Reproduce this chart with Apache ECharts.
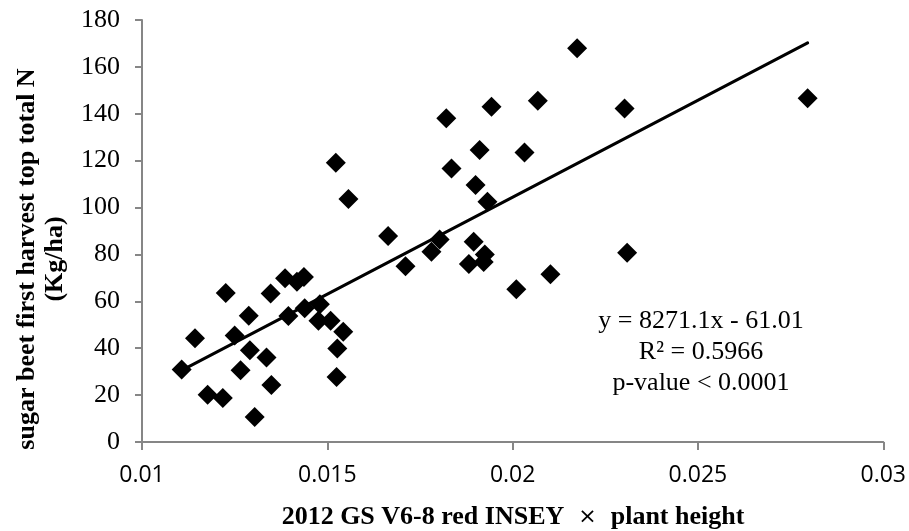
<!DOCTYPE html>
<html>
<head>
<meta charset="utf-8">
<script src="https://cdn.jsdelivr.net/npm/echarts@6/dist/echarts.min.js"></script>
<style>
  html, body { margin: 0; padding: 0; background: #fff; }
  #chart { width: 909px; height: 531px; }
</style>
</head>
<body>
<div id="chart"></div>
<script>
// Red INSEY × plant height (GS V6-8, 2012) against sugar beet top total N
const xValues = [
  0.01107, 0.01143, 0.01177, 0.01218, 0.01226, 0.01250, 0.01266, 0.01288,
  0.01291, 0.01304, 0.01336, 0.01349, 0.01347, 0.01386, 0.01395, 0.01418,
  0.01437, 0.01439, 0.01480, 0.01476, 0.01509, 0.01543, 0.01527, 0.01525,
  0.01523, 0.01557, 0.01664, 0.01711, 0.01781, 0.01803, 0.01821, 0.01835,
  0.01895, 0.01882, 0.01900, 0.01911, 0.01925, 0.01922, 0.01932, 0.01943,
  0.02010, 0.02032, 0.02068, 0.02102, 0.02174, 0.02302, 0.02309, 0.02796
];
const yValues = [
  30.9, 44.3, 20.2, 18.8, 63.6, 45.4, 30.6, 53.8,
  39.1, 10.7, 36.0, 24.3, 63.3, 69.8, 53.7, 68.3,
  70.4, 57.0, 58.8, 51.7, 51.7, 47.0, 39.9, 27.7,
  119.1, 103.6, 87.9, 75.0, 81.1, 86.4, 138.1, 116.7,
  85.4, 75.9, 109.6, 124.5, 80.0, 76.8, 102.5, 143.0,
  65.2, 123.5, 145.6, 71.5, 167.9, 142.2, 80.7, 146.6
];

// Linear fit reported on the chart
const slope = 8271.1;
const intercept = -61.01;
const statLines = ['y = 8271.1x - 61.01', 'R\u00B2 = 0.5966', 'p-value < 0.0001'];

const xTitle = '2012 GS V6-8 red INSEY';
const xTitleTail = 'plant height';
const yTitleLines = ['sugar beet first harvest top total N', '(Kg/ha)'];

const points = xValues.map((x, i) => [x, yValues[i]]);
const xMin = Math.min(...xValues);
const xMax = Math.max(...xValues);
const fitLine = [xMin, xMax].map(x => [x, slope * x + intercept]);

const axisGray = '#868686';
const serif = '"Liberation Serif", "Times New Roman", serif';

const chart = echarts.init(document.getElementById('chart'), null, { renderer: 'canvas' });
chart.setOption({
  backgroundColor: '#ffffff',
  animation: false,
  grid: { left: 142, right: 25, top: 20, bottom: 89, containLabel: false },
  xAxis: {
    type: 'value',
    min: 0.01, max: 0.03, interval: 0.005,
    splitLine: { show: false },
    axisLine: { onZero: false, lineStyle: { color: axisGray, width: 2 } },
    axisTick: { show: true, inside: false, length: 8, lineStyle: { color: axisGray, width: 2 } },
    axisLabel: {
      margin: 22, color: '#000', fontFamily: '"Open Sans", sans-serif', fontSize: 23,
      formatter: v => String(+v.toFixed(4))
    }
  },
  yAxis: {
    type: 'value',
    min: 0, max: 180, interval: 20,
    splitLine: { show: false },
    axisLine: { show: true, onZero: false, lineStyle: { color: axisGray, width: 2 } },
    axisTick: { show: true, inside: false, length: 7, lineStyle: { color: axisGray, width: 2 } },
    axisLabel: { margin: 22, color: '#000', fontFamily: serif, fontSize: 26 }
  },
  series: [
    {
      type: 'scatter',
      data: points,
      symbol: 'diamond',
      symbolSize: 20,
      itemStyle: { color: '#000', opacity: 1 },
      z: 3
    },
    {
      type: 'line',
      data: fitLine,
      symbol: 'none',
      lineStyle: { color: '#000', width: 3, cap: 'round' },
      z: 4
    }
  ],
  graphic: [
    {
      type: 'text',
      style: {
        x: 513, y: 517,
        text: '{b|' + xTitle + '}{m|  \u00D7  }{b|' + xTitleTail + '}',
        align: 'center', verticalAlign: 'middle',
        rich: {
          b: { fontFamily: serif, fontWeight: 'bold', fontSize: 26, fill: '#000' },
          m: { fontFamily: '"DejaVu Sans", sans-serif', fontWeight: 'normal', fontSize: 22, fill: '#000' }
        }
      }
    },
    {
      type: 'text',
      x: 41, y: 259,
      rotation: Math.PI / 2,
      style: {
        text: yTitleLines.join('\n'),
        align: 'center', verticalAlign: 'middle',
        fontFamily: serif, fontWeight: 'bold', fontSize: 26, lineHeight: 28, fill: '#000'
      }
    },
    {
      type: 'text',
      x: 701, y: 352,
      style: {
        text: statLines.join('\n'),
        align: 'center', verticalAlign: 'middle',
        fontFamily: serif, fontSize: 26, lineHeight: 31, fill: '#000'
      }
    }
  ]
});
</script>
</body>
</html>
